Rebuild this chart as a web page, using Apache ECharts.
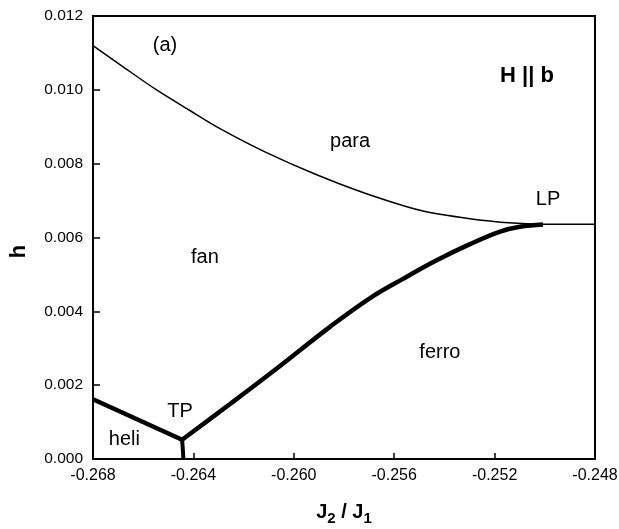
<!DOCTYPE html>
<html>
<head>
<meta charset="utf-8">
<script src="https://cdn.jsdelivr.net/npm/echarts@6/dist/echarts.min.js"></script>
<style>
  html, body { margin: 0; padding: 0; background: #fff; }
  #chart { width: 619px; height: 529px; }
</style>
</head>
<body>
<div id="chart"></div>
<script>
// para / fan boundary (thin line)
const paraX = [-0.268, -0.26673, -0.26545, -0.26414, -0.26294, -0.26115, -0.25916, -0.25716, -0.25497, -0.25298, -0.25127, -0.25019, -0.248];
const paraY = [0.01120, 0.01059, 0.00999, 0.00944, 0.00895, 0.00832, 0.00772, 0.00720, 0.00674, 0.00651, 0.00639, 0.00636, 0.00636];

// fan / ferro boundary (thick line)
const ferroX = [-0.26445, -0.26254, -0.26055, -0.25856, -0.25696, -0.25565, -0.25429, -0.25298, -0.25178, -0.25099, -0.25007];
const ferroY = [0.00052, 0.00149, 0.00252, 0.00358, 0.00436, 0.00488, 0.00539, 0.00582, 0.00616, 0.00629, 0.00635];

// heli / fan boundary
const heliX = [-0.268, -0.26445];
const heliY = [0.00162, 0.00052];

// heli / ferro boundary
const tpX = [-0.26445, -0.26442, -0.26440];
const tpY = [0.00052, 0.00025, 0];

// phase labels [x, y, text]
const labels = [
  [-0.26513, 0.01120, "(a)"],
  [-0.25776, 0.00859, "para"],
  [-0.26354, 0.00547, "fan"],
  [-0.25418, 0.00288, "ferro"],
  [-0.24987, 0.00702, "LP"],
  [-0.26453, 0.00130, "TP"],
  [-0.26675, 0.00052, "heli"]
];
const titleLabel = [[-0.25071, 0.01037, "H || b"]];

const zip = (xs, ys) => xs.map((x, i) => [x, ys[i]]);

const chart = echarts.init(document.getElementById("chart"));
const font = "Liberation Sans, Arial, sans-serif";
const option = {
  animation: false,
  grid: { left: 93, right: 24, top: 16, bottom: 70, outerBoundsMode: "none", containLabel: false },
  xAxis: [
    {
      type: "value",
      min: -0.268,
      max: -0.248,
      interval: 0.004,
      name: "{b|J}{s|2}{b| / J}{s|1}",
      nameLocation: "middle",
      nameGap: 40,
      nameTextStyle: {
        rich: {
          b: { fontFamily: font, fontWeight: "bold", fontSize: 20, color: "#000" },
          s: { fontFamily: font, fontWeight: "bold", fontSize: 15, color: "#000", padding: [12, 0, 0, 0] }
        }
      },
      axisLine: { onZero: false, lineStyle: { color: "#000", width: 2 } },
      axisTick: { inside: true, length: 6, lineStyle: { color: "#000", width: 1.5 } },
      axisLabel: {
        color: "#000", fontFamily: font, fontSize: 16, margin: 9,
        formatter: (v) => v.toFixed(3)
      },
      splitLine: { show: false }
    },
    {
      type: "value",
      position: "top",
      min: -0.268,
      max: -0.248,
      axisLine: { onZero: false, lineStyle: { color: "#000", width: 2 } },
      axisTick: { show: false },
      axisLabel: { show: false },
      splitLine: { show: false }
    }
  ],
  yAxis: [
    {
      type: "value",
      min: 0,
      max: 0.012,
      interval: 0.002,
      name: "h",
      nameLocation: "middle",
      nameGap: 63,
      nameTextStyle: { fontFamily: font, fontWeight: "bold", fontSize: 22, color: "#000", padding: [0, 28, 0, 0] },
      axisLine: { onZero: false, lineStyle: { color: "#000", width: 2 } },
      axisTick: { inside: true, length: 7, lineStyle: { color: "#000", width: 1.5 } },
      axisLabel: {
        color: "#000", fontFamily: font, fontSize: 15.5, margin: 10,
        formatter: (v) => v.toFixed(3)
      },
      splitLine: { show: false }
    },
    {
      type: "value",
      position: "right",
      min: 0,
      max: 0.012,
      axisLine: { onZero: false, lineStyle: { color: "#000", width: 2 } },
      axisTick: { show: false },
      axisLabel: { show: false },
      splitLine: { show: false }
    }
  ],
  series: [
    {
      type: "line", data: zip(paraX, paraY), smooth: 0.3, symbol: "none",
      lineStyle: { color: "#000", width: 1.5 }
    },
    {
      type: "line", data: zip(ferroX, ferroY), smooth: 0.4, symbol: "none",
      lineStyle: { color: "#000", width: 4.5 }
    },
    {
      type: "line", data: zip(heliX, heliY), symbol: "none",
      lineStyle: { color: "#000", width: 4.5 }
    },
    {
      type: "line", data: zip(tpX, tpY), symbol: "none",
      lineStyle: { color: "#000", width: 4 }
    },
    {
      type: "scatter", data: labels, symbolSize: 0,
      itemStyle: { opacity: 1 },
      label: {
        show: true, position: "inside", color: "#000", textBorderWidth: 0, opacity: 1,
        fontFamily: font, fontSize: 20,
        formatter: (p) => p.data[2]
      }
    },
    {
      type: "scatter", data: titleLabel, symbolSize: 0,
      itemStyle: { opacity: 1 },
      label: {
        show: true, position: "inside", color: "#000", textBorderWidth: 0, opacity: 1,
        fontFamily: font, fontSize: 22, fontWeight: "bold",
        formatter: (p) => p.data[2]
      }
    }
  ]
};
chart.setOption(option);
</script>
</body>
</html>
